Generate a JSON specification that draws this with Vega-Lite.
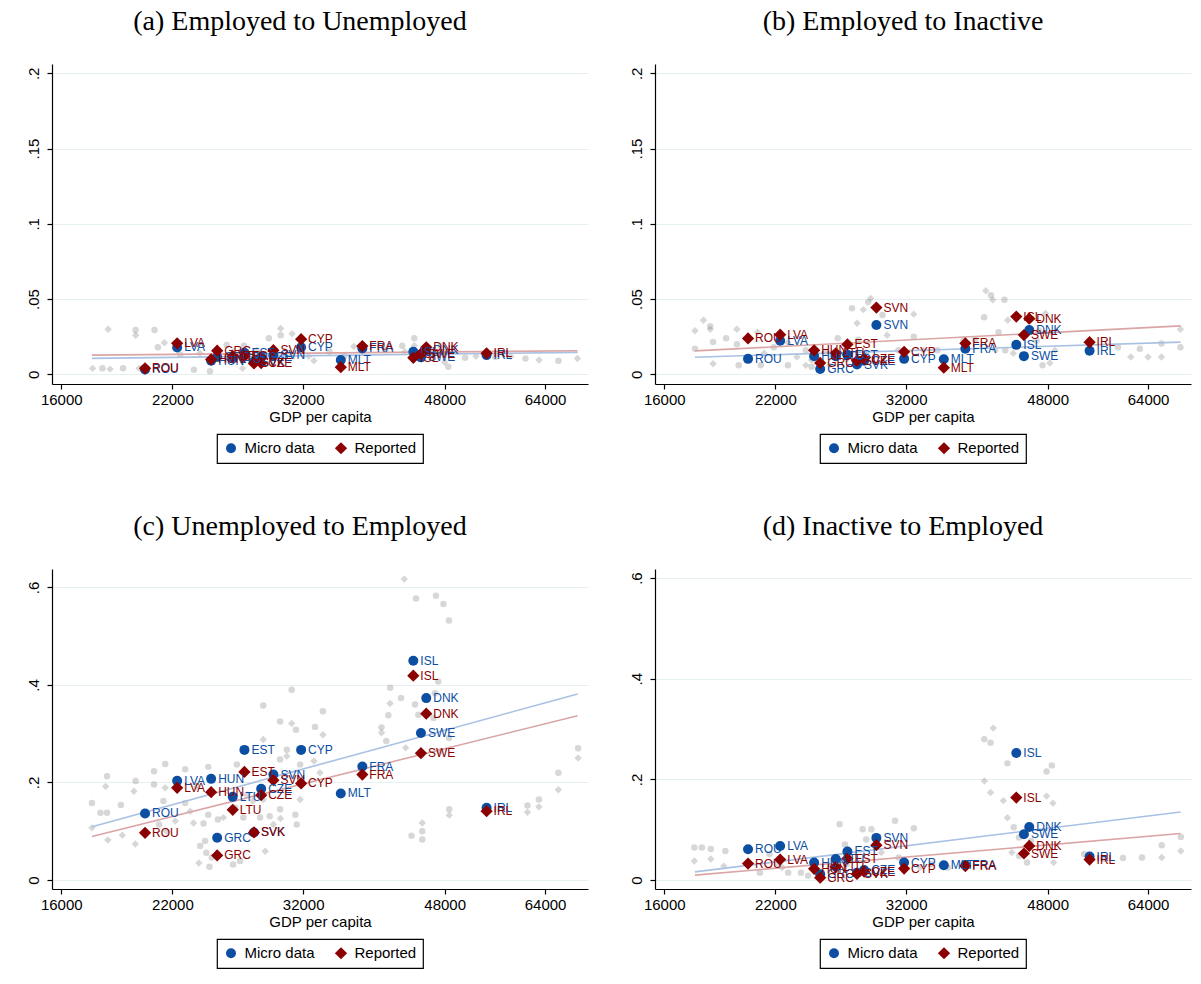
{
  "$schema": "https://vega.github.io/schema/vega-lite/v6.json",
  "background": "white",
  "padding": {"left": 26, "top": 8, "right": 5, "bottom": 5},
  "datasets": {
    "a": [
      {"series": "other micro", "gdp": 18000, "rate": 0.004},
      {"series": "other reported", "gdp": 17500, "rate": 0.004},
      {"series": "other reported", "gdp": 18400, "rate": 0.0035},
      {"series": "other micro", "gdp": 19100, "rate": 0.004},
      {"series": "other reported", "gdp": 18300, "rate": 0.030},
      {"series": "other micro", "gdp": 19800, "rate": 0.0295},
      {"series": "other reported", "gdp": 19800, "rate": 0.026},
      {"series": "other micro", "gdp": 20900, "rate": 0.0295},
      {"series": "other micro", "gdp": 21100, "rate": 0.018},
      {"series": "other reported", "gdp": 21500, "rate": 0.021},
      {"series": "other reported", "gdp": 20000, "rate": 0.004},
      {"series": "other micro", "gdp": 23400, "rate": 0.003},
      {"series": "other micro", "gdp": 24500, "rate": 0.002},
      {"series": "other reported", "gdp": 23800, "rate": 0.014},
      {"series": "other micro", "gdp": 25700, "rate": 0.0195},
      {"series": "other reported", "gdp": 26200, "rate": 0.015},
      {"series": "other micro", "gdp": 27000, "rate": 0.019},
      {"series": "other micro", "gdp": 27600, "rate": 0.0075},
      {"series": "other reported", "gdp": 26900, "rate": 0.004},
      {"series": "other reported", "gdp": 30000, "rate": 0.0305},
      {"series": "other micro", "gdp": 30000, "rate": 0.026},
      {"series": "other reported", "gdp": 31000, "rate": 0.027},
      {"series": "other micro", "gdp": 29000, "rate": 0.024},
      {"series": "other reported", "gdp": 28400, "rate": 0.011},
      {"series": "other micro", "gdp": 31000, "rate": 0.012},
      {"series": "other reported", "gdp": 32500, "rate": 0.012},
      {"series": "other micro", "gdp": 34500, "rate": 0.015},
      {"series": "other reported", "gdp": 37000, "rate": 0.0185},
      {"series": "other micro", "gdp": 40500, "rate": 0.016},
      {"series": "other reported", "gdp": 42800, "rate": 0.015},
      {"series": "other micro", "gdp": 44000, "rate": 0.024},
      {"series": "other reported", "gdp": 44000, "rate": 0.019},
      {"series": "other micro", "gdp": 42500, "rate": 0.019},
      {"series": "other reported", "gdp": 46500, "rate": 0.014},
      {"series": "other micro", "gdp": 47500, "rate": 0.019},
      {"series": "other micro", "gdp": 48500, "rate": 0.005},
      {"series": "other reported", "gdp": 48000, "rate": 0.008},
      {"series": "other micro", "gdp": 50900, "rate": 0.011},
      {"series": "other reported", "gdp": 52500, "rate": 0.012},
      {"series": "other micro", "gdp": 55500, "rate": 0.0115},
      {"series": "other reported", "gdp": 58000, "rate": 0.012},
      {"series": "other micro", "gdp": 60500, "rate": 0.0105},
      {"series": "other reported", "gdp": 62900, "rate": 0.0095},
      {"series": "other micro", "gdp": 66500, "rate": 0.009},
      {"series": "other reported", "gdp": 70200, "rate": 0.0105},
      {"series": "other micro", "gdp": 25000, "rate": 0.011},
      {"series": "other reported", "gdp": 28000, "rate": 0.016},
      {"series": "other micro", "gdp": 22500, "rate": 0.013},
      {"series": "other reported", "gdp": 33000, "rate": 0.009},
      {"series": "other micro", "gdp": 36000, "rate": 0.012},
      {"series": "fit micro", "gdp": 17470, "rate": 0.0106},
      {"series": "fit micro", "gdp": 70240, "rate": 0.0146},
      {"series": "fit reported", "gdp": 17470, "rate": 0.0128},
      {"series": "fit reported", "gdp": 70240, "rate": 0.0157},
      {"series": "Micro data", "country": "ROU", "gdp": 20340, "rate": 0.0033},
      {"series": "Micro data", "country": "LVA", "gdp": 22300, "rate": 0.0179},
      {"series": "Micro data", "country": "HUN", "gdp": 24580, "rate": 0.009},
      {"series": "Micro data", "country": "GRC", "gdp": 25010, "rate": 0.0115},
      {"series": "Micro data", "country": "LTU", "gdp": 26150, "rate": 0.0105},
      {"series": "Micro data", "country": "EST", "gdp": 27040, "rate": 0.0143},
      {"series": "Micro data", "country": "SVK", "gdp": 27790, "rate": 0.0085},
      {"series": "Micro data", "country": "CZE", "gdp": 28370, "rate": 0.0115},
      {"series": "Micro data", "country": "SVN", "gdp": 29380, "rate": 0.0128},
      {"series": "Micro data", "country": "CYP", "gdp": 31810, "rate": 0.018},
      {"series": "Micro data", "country": "MLT", "gdp": 35640, "rate": 0.0095},
      {"series": "Micro data", "country": "FRA", "gdp": 37910, "rate": 0.0172},
      {"series": "Micro data", "country": "ISL", "gdp": 43870, "rate": 0.015},
      {"series": "Micro data", "country": "SWE", "gdp": 44840, "rate": 0.0113},
      {"series": "Micro data", "country": "DNK", "gdp": 45530, "rate": 0.016},
      {"series": "Micro data", "country": "IRL", "gdp": 54120, "rate": 0.0128},
      {"series": "Reported", "country": "ROU", "gdp": 20340, "rate": 0.004},
      {"series": "Reported", "country": "LVA", "gdp": 22300, "rate": 0.0206},
      {"series": "Reported", "country": "HUN", "gdp": 24580, "rate": 0.0099},
      {"series": "Reported", "country": "GRC", "gdp": 25010, "rate": 0.0157},
      {"series": "Reported", "country": "LTU", "gdp": 26150, "rate": 0.0121},
      {"series": "Reported", "country": "EST", "gdp": 27040, "rate": 0.012},
      {"series": "Reported", "country": "SVK", "gdp": 27790, "rate": 0.0073},
      {"series": "Reported", "country": "CZE", "gdp": 28370, "rate": 0.0075},
      {"series": "Reported", "country": "SVN", "gdp": 29380, "rate": 0.0161},
      {"series": "Reported", "country": "CYP", "gdp": 31810, "rate": 0.0234},
      {"series": "Reported", "country": "MLT", "gdp": 35640, "rate": 0.0048},
      {"series": "Reported", "country": "FRA", "gdp": 37910, "rate": 0.0188},
      {"series": "Reported", "country": "ISL", "gdp": 43870, "rate": 0.011},
      {"series": "Reported", "country": "SWE", "gdp": 44840, "rate": 0.0137},
      {"series": "Reported", "country": "DNK", "gdp": 45530, "rate": 0.018},
      {"series": "Reported", "country": "IRL", "gdp": 54120, "rate": 0.014}
    ],
    "b": [
      {"series": "other reported", "gdp": 17470, "rate": 0.029},
      {"series": "other micro", "gdp": 17470, "rate": 0.017},
      {"series": "other reported", "gdp": 17900, "rate": 0.036},
      {"series": "other micro", "gdp": 18250, "rate": 0.032},
      {"series": "other reported", "gdp": 18250, "rate": 0.030},
      {"series": "other micro", "gdp": 18400, "rate": 0.0215},
      {"series": "other reported", "gdp": 18400, "rate": 0.007},
      {"series": "other micro", "gdp": 19100, "rate": 0.024},
      {"series": "other reported", "gdp": 19700, "rate": 0.030},
      {"series": "other micro", "gdp": 19700, "rate": 0.020},
      {"series": "other micro", "gdp": 19800, "rate": 0.006},
      {"series": "other reported", "gdp": 20900, "rate": 0.028},
      {"series": "other micro", "gdp": 21100, "rate": 0.006},
      {"series": "other reported", "gdp": 21300, "rate": 0.014},
      {"series": "other micro", "gdp": 21900, "rate": 0.018},
      {"series": "other reported", "gdp": 22800, "rate": 0.021},
      {"series": "other micro", "gdp": 22800, "rate": 0.006},
      {"series": "other reported", "gdp": 23400, "rate": 0.0115},
      {"series": "other micro", "gdp": 24000, "rate": 0.016},
      {"series": "other reported", "gdp": 24400, "rate": 0.0095},
      {"series": "other micro", "gdp": 24400, "rate": 0.005},
      {"series": "other reported", "gdp": 24000, "rate": 0.006},
      {"series": "other micro", "gdp": 25400, "rate": 0.015},
      {"series": "other reported", "gdp": 25700, "rate": 0.006},
      {"series": "other micro", "gdp": 26300, "rate": 0.024},
      {"series": "other reported", "gdp": 27000, "rate": 0.010},
      {"series": "other micro", "gdp": 27400, "rate": 0.044},
      {"series": "other reported", "gdp": 27800, "rate": 0.034},
      {"series": "other reported", "gdp": 28300, "rate": 0.043},
      {"series": "other reported", "gdp": 28900, "rate": 0.0505},
      {"series": "other micro", "gdp": 28700, "rate": 0.048},
      {"series": "other micro", "gdp": 27900, "rate": 0.023},
      {"series": "other reported", "gdp": 28500, "rate": 0.014},
      {"series": "other micro", "gdp": 29900, "rate": 0.0395},
      {"series": "other reported", "gdp": 30300, "rate": 0.026},
      {"series": "other micro", "gdp": 31300, "rate": 0.016},
      {"series": "other reported", "gdp": 32700, "rate": 0.040},
      {"series": "other micro", "gdp": 32700, "rate": 0.025},
      {"series": "other reported", "gdp": 33600, "rate": 0.016},
      {"series": "other micro", "gdp": 35000, "rate": 0.016},
      {"series": "other reported", "gdp": 37700, "rate": 0.023},
      {"series": "other micro", "gdp": 39000, "rate": 0.023},
      {"series": "other micro", "gdp": 40000, "rate": 0.038},
      {"series": "other reported", "gdp": 40200, "rate": 0.0555},
      {"series": "other micro", "gdp": 40800, "rate": 0.0525},
      {"series": "other reported", "gdp": 41000, "rate": 0.0495},
      {"series": "other micro", "gdp": 42400, "rate": 0.0495},
      {"series": "other reported", "gdp": 42800, "rate": 0.036},
      {"series": "other micro", "gdp": 41700, "rate": 0.028},
      {"series": "other reported", "gdp": 41300, "rate": 0.016},
      {"series": "other micro", "gdp": 42500, "rate": 0.016},
      {"series": "other reported", "gdp": 43500, "rate": 0.014},
      {"series": "other micro", "gdp": 46500, "rate": 0.0225},
      {"series": "other micro", "gdp": 47300, "rate": 0.006},
      {"series": "other reported", "gdp": 48300, "rate": 0.0075},
      {"series": "other reported", "gdp": 47700, "rate": 0.0405},
      {"series": "other micro", "gdp": 46800, "rate": 0.029},
      {"series": "other reported", "gdp": 49000, "rate": 0.016},
      {"series": "other micro", "gdp": 58700, "rate": 0.018},
      {"series": "other reported", "gdp": 60900, "rate": 0.0115},
      {"series": "other micro", "gdp": 62500, "rate": 0.017},
      {"series": "other reported", "gdp": 64000, "rate": 0.0115},
      {"series": "other micro", "gdp": 66500, "rate": 0.0205},
      {"series": "other reported", "gdp": 66500, "rate": 0.0115},
      {"series": "other reported", "gdp": 70200, "rate": 0.030},
      {"series": "other micro", "gdp": 70200, "rate": 0.018},
      {"series": "fit micro", "gdp": 17470, "rate": 0.0114},
      {"series": "fit micro", "gdp": 70240, "rate": 0.0214},
      {"series": "fit reported", "gdp": 17470, "rate": 0.0156},
      {"series": "fit reported", "gdp": 70240, "rate": 0.0322},
      {"series": "Micro data", "country": "ROU", "gdp": 20340, "rate": 0.0103},
      {"series": "Micro data", "country": "LVA", "gdp": 22300, "rate": 0.0223},
      {"series": "Micro data", "country": "HUN", "gdp": 24580, "rate": 0.0121},
      {"series": "Micro data", "country": "GRC", "gdp": 25010, "rate": 0.0036},
      {"series": "Micro data", "country": "LTU", "gdp": 26150, "rate": 0.012},
      {"series": "Micro data", "country": "EST", "gdp": 27040, "rate": 0.013},
      {"series": "Micro data", "country": "SVK", "gdp": 27790, "rate": 0.0065},
      {"series": "Micro data", "country": "CZE", "gdp": 28370, "rate": 0.009},
      {"series": "Micro data", "country": "SVN", "gdp": 29380, "rate": 0.0328},
      {"series": "Micro data", "country": "CYP", "gdp": 31810, "rate": 0.0103},
      {"series": "Micro data", "country": "MLT", "gdp": 35640, "rate": 0.0100},
      {"series": "Micro data", "country": "FRA", "gdp": 37910, "rate": 0.017},
      {"series": "Micro data", "country": "ISL", "gdp": 43870, "rate": 0.0196},
      {"series": "Micro data", "country": "SWE", "gdp": 44840, "rate": 0.0121},
      {"series": "Micro data", "country": "DNK", "gdp": 45530, "rate": 0.0294},
      {"series": "Micro data", "country": "IRL", "gdp": 54120, "rate": 0.0157},
      {"series": "Reported", "country": "ROU", "gdp": 20340, "rate": 0.0239},
      {"series": "Reported", "country": "LVA", "gdp": 22300, "rate": 0.0264},
      {"series": "Reported", "country": "HUN", "gdp": 24580, "rate": 0.016},
      {"series": "Reported", "country": "GRC", "gdp": 25010, "rate": 0.0076},
      {"series": "Reported", "country": "LTU", "gdp": 26150, "rate": 0.014},
      {"series": "Reported", "country": "EST", "gdp": 27040, "rate": 0.0199},
      {"series": "Reported", "country": "SVK", "gdp": 27790, "rate": 0.009},
      {"series": "Reported", "country": "CZE", "gdp": 28370, "rate": 0.0105},
      {"series": "Reported", "country": "SVN", "gdp": 29380, "rate": 0.0444},
      {"series": "Reported", "country": "CYP", "gdp": 31810, "rate": 0.015},
      {"series": "Reported", "country": "MLT", "gdp": 35640, "rate": 0.0044},
      {"series": "Reported", "country": "FRA", "gdp": 37910, "rate": 0.0206},
      {"series": "Reported", "country": "ISL", "gdp": 43870, "rate": 0.0384},
      {"series": "Reported", "country": "SWE", "gdp": 44840, "rate": 0.0261},
      {"series": "Reported", "country": "DNK", "gdp": 45530, "rate": 0.037},
      {"series": "Reported", "country": "IRL", "gdp": 54120, "rate": 0.0214}
    ],
    "c": [
      {"series": "other reported", "gdp": 42750, "rate": 0.617},
      {"series": "other micro", "gdp": 44210, "rate": 0.577},
      {"series": "other micro", "gdp": 46810, "rate": 0.583},
      {"series": "other micro", "gdp": 47830, "rate": 0.566},
      {"series": "other micro", "gdp": 48590, "rate": 0.532},
      {"series": "other micro", "gdp": 30960, "rate": 0.390},
      {"series": "other micro", "gdp": 28540, "rate": 0.358},
      {"series": "other micro", "gdp": 33860, "rate": 0.346},
      {"series": "other micro", "gdp": 41060, "rate": 0.394},
      {"series": "other micro", "gdp": 42360, "rate": 0.373},
      {"series": "other reported", "gdp": 41040, "rate": 0.362},
      {"series": "other micro", "gdp": 40840, "rate": 0.338},
      {"series": "other micro", "gdp": 44080, "rate": 0.360},
      {"series": "other micro", "gdp": 46680, "rate": 0.383},
      {"series": "other micro", "gdp": 47120, "rate": 0.407},
      {"series": "other micro", "gdp": 44510, "rate": 0.339},
      {"series": "other micro", "gdp": 46480, "rate": 0.332},
      {"series": "other micro", "gdp": 29950, "rate": 0.325},
      {"series": "other reported", "gdp": 30960, "rate": 0.321},
      {"series": "other micro", "gdp": 31340, "rate": 0.308},
      {"series": "other micro", "gdp": 33100, "rate": 0.314},
      {"series": "other reported", "gdp": 33860, "rate": 0.298},
      {"series": "other reported", "gdp": 28540, "rate": 0.288},
      {"series": "other micro", "gdp": 40050, "rate": 0.313},
      {"series": "other reported", "gdp": 40050, "rate": 0.302},
      {"series": "other micro", "gdp": 40600, "rate": 0.285},
      {"series": "other reported", "gdp": 42920, "rate": 0.271},
      {"series": "other micro", "gdp": 47350, "rate": 0.264},
      {"series": "other micro", "gdp": 48600, "rate": 0.291},
      {"series": "other micro", "gdp": 30540, "rate": 0.267},
      {"series": "other micro", "gdp": 29950, "rate": 0.247},
      {"series": "other reported", "gdp": 30530, "rate": 0.254},
      {"series": "other reported", "gdp": 33000, "rate": 0.244},
      {"series": "other micro", "gdp": 31720, "rate": 0.237},
      {"series": "other reported", "gdp": 33570, "rate": 0.220},
      {"series": "other micro", "gdp": 26460, "rate": 0.237},
      {"series": "other micro", "gdp": 24380, "rate": 0.232},
      {"series": "other micro", "gdp": 21550, "rate": 0.238},
      {"series": "other micro", "gdp": 22820, "rate": 0.227},
      {"series": "other micro", "gdp": 20870, "rate": 0.223},
      {"series": "other micro", "gdp": 18240, "rate": 0.213},
      {"series": "other micro", "gdp": 19800, "rate": 0.203},
      {"series": "other reported", "gdp": 18170, "rate": 0.192},
      {"series": "other micro", "gdp": 23600, "rate": 0.192},
      {"series": "other micro", "gdp": 18980, "rate": 0.154},
      {"series": "other micro", "gdp": 18240, "rate": 0.138},
      {"series": "other reported", "gdp": 19700, "rate": 0.182},
      {"series": "other micro", "gdp": 20870, "rate": 0.196},
      {"series": "other reported", "gdp": 21550, "rate": 0.189},
      {"series": "other micro", "gdp": 21440, "rate": 0.162},
      {"series": "other micro", "gdp": 22820, "rate": 0.158},
      {"series": "other reported", "gdp": 23150, "rate": 0.141},
      {"series": "other reported", "gdp": 22180, "rate": 0.121},
      {"series": "other reported", "gdp": 23370, "rate": 0.117},
      {"series": "other micro", "gdp": 24050, "rate": 0.116},
      {"series": "other micro", "gdp": 24380, "rate": 0.134},
      {"series": "other micro", "gdp": 25060, "rate": 0.124},
      {"series": "other reported", "gdp": 25460, "rate": 0.128},
      {"series": "other micro", "gdp": 26330, "rate": 0.148},
      {"series": "other micro", "gdp": 26960, "rate": 0.128},
      {"series": "other micro", "gdp": 27260, "rate": 0.175},
      {"series": "other reported", "gdp": 27700, "rate": 0.162},
      {"series": "other reported", "gdp": 28550, "rate": 0.165},
      {"series": "other micro", "gdp": 29950, "rate": 0.145},
      {"series": "other reported", "gdp": 29980, "rate": 0.126},
      {"series": "other reported", "gdp": 29380, "rate": 0.114},
      {"series": "other micro", "gdp": 29070, "rate": 0.131},
      {"series": "other micro", "gdp": 31290, "rate": 0.134},
      {"series": "other micro", "gdp": 31420, "rate": 0.114},
      {"series": "other reported", "gdp": 31720, "rate": 0.165},
      {"series": "other micro", "gdp": 28280, "rate": 0.128},
      {"series": "other reported", "gdp": 28700, "rate": 0.059},
      {"series": "other micro", "gdp": 24160, "rate": 0.080},
      {"series": "other micro", "gdp": 23820, "rate": 0.070},
      {"series": "other micro", "gdp": 24240, "rate": 0.056},
      {"series": "other micro", "gdp": 24630, "rate": 0.046},
      {"series": "other reported", "gdp": 23730, "rate": 0.035},
      {"series": "other micro", "gdp": 24460, "rate": 0.027},
      {"series": "other micro", "gdp": 26710, "rate": 0.039},
      {"series": "other micro", "gdp": 26180, "rate": 0.032},
      {"series": "other micro", "gdp": 21170, "rate": 0.114},
      {"series": "other reported", "gdp": 21640, "rate": 0.100},
      {"series": "other reported", "gdp": 19060, "rate": 0.092},
      {"series": "other reported", "gdp": 19780, "rate": 0.074},
      {"series": "other reported", "gdp": 18280, "rate": 0.082},
      {"series": "other micro", "gdp": 17470, "rate": 0.158},
      {"series": "other reported", "gdp": 17470, "rate": 0.107},
      {"series": "other micro", "gdp": 17900, "rate": 0.138},
      {"series": "other micro", "gdp": 48630, "rate": 0.145},
      {"series": "other reported", "gdp": 48630, "rate": 0.133},
      {"series": "other reported", "gdp": 45010, "rate": 0.117},
      {"series": "other micro", "gdp": 45010, "rate": 0.100},
      {"series": "other micro", "gdp": 43650, "rate": 0.091},
      {"series": "other micro", "gdp": 45010, "rate": 0.083},
      {"series": "other micro", "gdp": 60850, "rate": 0.153},
      {"series": "other reported", "gdp": 60850, "rate": 0.139},
      {"series": "other micro", "gdp": 62880, "rate": 0.165},
      {"series": "other reported", "gdp": 62880, "rate": 0.150},
      {"series": "other micro", "gdp": 66470, "rate": 0.220},
      {"series": "other reported", "gdp": 66470, "rate": 0.185},
      {"series": "other micro", "gdp": 70350, "rate": 0.270},
      {"series": "other reported", "gdp": 70350, "rate": 0.250},
      {"series": "fit micro", "gdp": 17470, "rate": 0.1094},
      {"series": "fit micro", "gdp": 70240, "rate": 0.3814},
      {"series": "fit reported", "gdp": 17470, "rate": 0.0893},
      {"series": "fit reported", "gdp": 70240, "rate": 0.337},
      {"series": "Micro data", "country": "ROU", "gdp": 20340, "rate": 0.1365},
      {"series": "Micro data", "country": "LVA", "gdp": 22300, "rate": 0.2033},
      {"series": "Micro data", "country": "HUN", "gdp": 24580, "rate": 0.2074},
      {"series": "Micro data", "country": "GRC", "gdp": 25010, "rate": 0.0866},
      {"series": "Micro data", "country": "LTU", "gdp": 26150, "rate": 0.1705},
      {"series": "Micro data", "country": "EST", "gdp": 27040, "rate": 0.2668},
      {"series": "Micro data", "country": "SVK", "gdp": 27790, "rate": 0.0976},
      {"series": "Micro data", "country": "CZE", "gdp": 28370, "rate": 0.1869},
      {"series": "Micro data", "country": "SVN", "gdp": 29380, "rate": 0.2163},
      {"series": "Micro data", "country": "CYP", "gdp": 31810, "rate": 0.2668},
      {"series": "Micro data", "country": "MLT", "gdp": 35640, "rate": 0.1775},
      {"series": "Micro data", "country": "FRA", "gdp": 37910, "rate": 0.2327},
      {"series": "Micro data", "country": "ISL", "gdp": 43870, "rate": 0.4497},
      {"series": "Micro data", "country": "SWE", "gdp": 44840, "rate": 0.3016},
      {"series": "Micro data", "country": "DNK", "gdp": 45530, "rate": 0.373},
      {"series": "Micro data", "country": "IRL", "gdp": 54120, "rate": 0.148},
      {"series": "Reported", "country": "ROU", "gdp": 20340, "rate": 0.0969},
      {"series": "Reported", "country": "LVA", "gdp": 22300, "rate": 0.189},
      {"series": "Reported", "country": "HUN", "gdp": 24580, "rate": 0.180},
      {"series": "Reported", "country": "GRC", "gdp": 25010, "rate": 0.0505},
      {"series": "Reported", "country": "LTU", "gdp": 26150, "rate": 0.144},
      {"series": "Reported", "country": "EST", "gdp": 27040, "rate": 0.2217},
      {"series": "Reported", "country": "SVK", "gdp": 27790, "rate": 0.0976},
      {"series": "Reported", "country": "CZE", "gdp": 28370, "rate": 0.174},
      {"series": "Reported", "country": "SVN", "gdp": 29380, "rate": 0.2047},
      {"series": "Reported", "country": "CYP", "gdp": 31810, "rate": 0.198},
      {"series": "Reported", "country": "FRA", "gdp": 37910, "rate": 0.2163},
      {"series": "Reported", "country": "ISL", "gdp": 43870, "rate": 0.419},
      {"series": "Reported", "country": "SWE", "gdp": 44840, "rate": 0.260},
      {"series": "Reported", "country": "DNK", "gdp": 45530, "rate": 0.341},
      {"series": "Reported", "country": "IRL", "gdp": 54120, "rate": 0.1412}
    ],
    "d": [
      {"series": "other reported", "gdp": 41060, "rate": 0.302},
      {"series": "other micro", "gdp": 40030, "rate": 0.280},
      {"series": "other micro", "gdp": 40750, "rate": 0.273},
      {"series": "other micro", "gdp": 42770, "rate": 0.232},
      {"series": "other micro", "gdp": 48570, "rate": 0.228},
      {"series": "other micro", "gdp": 47850, "rate": 0.216},
      {"series": "other reported", "gdp": 40030, "rate": 0.197},
      {"series": "other reported", "gdp": 40750, "rate": 0.174},
      {"series": "other reported", "gdp": 42270, "rate": 0.158},
      {"series": "other reported", "gdp": 47850, "rate": 0.167},
      {"series": "other reported", "gdp": 48720, "rate": 0.153},
      {"series": "other reported", "gdp": 42770, "rate": 0.124},
      {"series": "other micro", "gdp": 43550, "rate": 0.105},
      {"series": "other micro", "gdp": 44210, "rate": 0.085},
      {"series": "other micro", "gdp": 45760, "rate": 0.078},
      {"series": "other reported", "gdp": 43310, "rate": 0.055},
      {"series": "other micro", "gdp": 44210, "rate": 0.048},
      {"series": "other micro", "gdp": 45240, "rate": 0.035},
      {"series": "other reported", "gdp": 48820, "rate": 0.035},
      {"series": "other micro", "gdp": 17440, "rate": 0.065},
      {"series": "other micro", "gdp": 17820, "rate": 0.065},
      {"series": "other micro", "gdp": 18280, "rate": 0.062},
      {"series": "other reported", "gdp": 17440, "rate": 0.038},
      {"series": "other reported", "gdp": 18280, "rate": 0.042},
      {"series": "other micro", "gdp": 19060, "rate": 0.058},
      {"series": "other reported", "gdp": 18970, "rate": 0.028},
      {"series": "other micro", "gdp": 21040, "rate": 0.015},
      {"series": "other micro", "gdp": 21630, "rate": 0.052},
      {"series": "other reported", "gdp": 22430, "rate": 0.025},
      {"series": "other micro", "gdp": 22820, "rate": 0.015},
      {"series": "other micro", "gdp": 23670, "rate": 0.015},
      {"series": "other micro", "gdp": 24160, "rate": 0.009},
      {"series": "other reported", "gdp": 24940, "rate": 0.005},
      {"series": "other micro", "gdp": 26440, "rate": 0.111},
      {"series": "other micro", "gdp": 28250, "rate": 0.101},
      {"series": "other micro", "gdp": 28960, "rate": 0.101},
      {"series": "other micro", "gdp": 30990, "rate": 0.118},
      {"series": "other micro", "gdp": 32710, "rate": 0.103},
      {"series": "other micro", "gdp": 28540, "rate": 0.081},
      {"series": "other micro", "gdp": 26850, "rate": 0.071},
      {"series": "other reported", "gdp": 29810, "rate": 0.055},
      {"series": "other micro", "gdp": 31320, "rate": 0.045},
      {"series": "other reported", "gdp": 33310, "rate": 0.025},
      {"series": "other micro", "gdp": 34480, "rate": 0.032},
      {"series": "other micro", "gdp": 36030, "rate": 0.025},
      {"series": "other reported", "gdp": 38170, "rate": 0.032},
      {"series": "other micro", "gdp": 56340, "rate": 0.042},
      {"series": "other micro", "gdp": 59560, "rate": 0.044},
      {"series": "other micro", "gdp": 62890, "rate": 0.045},
      {"series": "other micro", "gdp": 66550, "rate": 0.0695},
      {"series": "other reported", "gdp": 66550, "rate": 0.045},
      {"series": "other micro", "gdp": 70280, "rate": 0.086},
      {"series": "other reported", "gdp": 70280, "rate": 0.058},
      {"series": "other micro", "gdp": 53270, "rate": 0.052},
      {"series": "other reported", "gdp": 25700, "rate": 0.025},
      {"series": "other micro", "gdp": 27000, "rate": 0.032},
      {"series": "other micro", "gdp": 22160, "rate": 0.032},
      {"series": "fit micro", "gdp": 17470, "rate": 0.0165},
      {"series": "fit micro", "gdp": 70240, "rate": 0.1355},
      {"series": "fit reported", "gdp": 17470, "rate": 0.010},
      {"series": "fit reported", "gdp": 70240, "rate": 0.0927},
      {"series": "Micro data", "country": "ROU", "gdp": 20340, "rate": 0.0615},
      {"series": "Micro data", "country": "LVA", "gdp": 22300, "rate": 0.068},
      {"series": "Micro data", "country": "HUN", "gdp": 24580, "rate": 0.035},
      {"series": "Micro data", "country": "GRC", "gdp": 25010, "rate": 0.012},
      {"series": "Micro data", "country": "LTU", "gdp": 26150, "rate": 0.042},
      {"series": "Micro data", "country": "EST", "gdp": 27040, "rate": 0.057},
      {"series": "Micro data", "country": "SVK", "gdp": 27790, "rate": 0.015},
      {"series": "Micro data", "country": "CZE", "gdp": 28370, "rate": 0.020},
      {"series": "Micro data", "country": "SVN", "gdp": 29380, "rate": 0.084},
      {"series": "Micro data", "country": "CYP", "gdp": 31810, "rate": 0.035},
      {"series": "Micro data", "country": "MLT", "gdp": 35640, "rate": 0.0298},
      {"series": "Micro data", "country": "FRA", "gdp": 37910, "rate": 0.030},
      {"series": "Micro data", "country": "ISL", "gdp": 43870, "rate": 0.2527},
      {"series": "Micro data", "country": "SWE", "gdp": 44840, "rate": 0.0913},
      {"series": "Micro data", "country": "DNK", "gdp": 45530, "rate": 0.1058},
      {"series": "Micro data", "country": "IRL", "gdp": 54120, "rate": 0.047},
      {"series": "Reported", "country": "ROU", "gdp": 20340, "rate": 0.033},
      {"series": "Reported", "country": "LVA", "gdp": 22300, "rate": 0.041},
      {"series": "Reported", "country": "HUN", "gdp": 24580, "rate": 0.0225},
      {"series": "Reported", "country": "GRC", "gdp": 25010, "rate": 0.005},
      {"series": "Reported", "country": "LTU", "gdp": 26150, "rate": 0.026},
      {"series": "Reported", "country": "EST", "gdp": 27040, "rate": 0.043},
      {"series": "Reported", "country": "SVK", "gdp": 27790, "rate": 0.0125},
      {"series": "Reported", "country": "CZE", "gdp": 28370, "rate": 0.017},
      {"series": "Reported", "country": "SVN", "gdp": 29380, "rate": 0.0695},
      {"series": "Reported", "country": "CYP", "gdp": 31810, "rate": 0.023},
      {"series": "Reported", "country": "FRA", "gdp": 37910, "rate": 0.028},
      {"series": "Reported", "country": "ISL", "gdp": 43870, "rate": 0.164},
      {"series": "Reported", "country": "SWE", "gdp": 44840, "rate": 0.053},
      {"series": "Reported", "country": "DNK", "gdp": 45530, "rate": 0.068},
      {"series": "Reported", "country": "IRL", "gdp": 54120, "rate": 0.041}
    ]
  },
  "vconcat": [
    {
      "hconcat": [
        {
          "width": 536, "height": 320,
          "title": "(a) Employed to Unemployed",
          "data": {"name": "a"},
          "encoding": {
            "x": {"field": "gdp", "type": "quantitative", "scale": {"type": "log", "domain": [15580, 72370], "nice": false}, "axis": {"title": "GDP per capita", "values": [16000, 22000, 32000, 48000, 64000], "format": "d"}},
            "y": {"field": "rate", "type": "quantitative", "scale": {"domain": [-0.0064, 0.2062], "nice": false, "zero": false}, "axis": {"title": null, "values": [0, 0.05, 0.1, 0.15, 0.2], "labelExpr": "replace(format(datum.value, '~g'), '0.', '.')"}}
          },
          "layer": [
            {"transform": [{"filter": "datum.series == 'other micro'"}], "mark": {"type": "point", "shape": "circle", "filled": true, "color": "#6e6e6e", "opacity": 0.28, "size": 42}},
            {"transform": [{"filter": "datum.series == 'other reported'"}], "mark": {"type": "point", "shape": "diamond", "filled": true, "color": "#6e6e6e", "opacity": 0.28, "size": 55}},
            {"transform": [{"filter": "datum.series == 'fit micro'"}], "mark": {"type": "line", "color": "#a9c1e3", "strokeWidth": 1.6}, "encoding": {}},
            {"transform": [{"filter": "datum.series == 'fit reported'"}], "mark": {"type": "line", "color": "#dba5a5", "strokeWidth": 1.6}, "encoding": {}},
            {"transform": [{"filter": "datum.country != null"}], "mark": {"type": "point", "filled": true, "opacity": 1},
             "encoding": {
               "color": {"field": "series", "type": "nominal", "scale": {"domain": ["Micro data", "Reported"], "range": ["#0b4ea2", "#8b0000"]}, "legend": {"title": null}},
               "shape": {"field": "series", "type": "nominal", "scale": {"domain": ["Micro data", "Reported"], "range": ["circle", "diamond"]}, "legend": {"title": null}},
               "size": {"field": "series", "type": "ordinal", "scale": {"domain": ["Micro data", "Reported"], "range": [100, 150]}, "legend": null}
             }},
            {"transform": [{"filter": "datum.country != null"}], "mark": {"type": "text", "align": "left", "baseline": "middle", "dx": 7, "fontSize": 12},
             "encoding": {
               "text": {"field": "country", "type": "nominal"},
               "color": {"field": "series", "type": "nominal", "scale": {"domain": ["Micro data", "Reported"], "range": ["#0b4ea2", "#8b0000"]}, "legend": {"title": null}}
             }}
          ]
        },
        {
          "width": 536, "height": 320,
          "title": "(b) Employed to Inactive",
          "data": {"name": "b"},
          "encoding": {
            "x": {"field": "gdp", "type": "quantitative", "scale": {"type": "log", "domain": [15580, 72370], "nice": false}, "axis": {"title": "GDP per capita", "values": [16000, 22000, 32000, 48000, 64000], "format": "d"}},
            "y": {"field": "rate", "type": "quantitative", "scale": {"domain": [-0.0064, 0.2062], "nice": false, "zero": false}, "axis": {"title": null, "values": [0, 0.05, 0.1, 0.15, 0.2], "labelExpr": "replace(format(datum.value, '~g'), '0.', '.')"}}
          },
          "layer": [
            {"transform": [{"filter": "datum.series == 'other micro'"}], "mark": {"type": "point", "shape": "circle", "filled": true, "color": "#6e6e6e", "opacity": 0.28, "size": 42}},
            {"transform": [{"filter": "datum.series == 'other reported'"}], "mark": {"type": "point", "shape": "diamond", "filled": true, "color": "#6e6e6e", "opacity": 0.28, "size": 55}},
            {"transform": [{"filter": "datum.series == 'fit micro'"}], "mark": {"type": "line", "color": "#a9c1e3", "strokeWidth": 1.6}, "encoding": {}},
            {"transform": [{"filter": "datum.series == 'fit reported'"}], "mark": {"type": "line", "color": "#dba5a5", "strokeWidth": 1.6}, "encoding": {}},
            {"transform": [{"filter": "datum.country != null"}], "mark": {"type": "point", "filled": true, "opacity": 1},
             "encoding": {
               "color": {"field": "series", "type": "nominal", "scale": {"domain": ["Micro data", "Reported"], "range": ["#0b4ea2", "#8b0000"]}, "legend": {"title": null}},
               "shape": {"field": "series", "type": "nominal", "scale": {"domain": ["Micro data", "Reported"], "range": ["circle", "diamond"]}, "legend": {"title": null}},
               "size": {"field": "series", "type": "ordinal", "scale": {"domain": ["Micro data", "Reported"], "range": [100, 150]}, "legend": null}
             }},
            {"transform": [{"filter": "datum.country != null"}], "mark": {"type": "text", "align": "left", "baseline": "middle", "dx": 7, "fontSize": 12},
             "encoding": {
               "text": {"field": "country", "type": "nominal"},
               "color": {"field": "series", "type": "nominal", "scale": {"domain": ["Micro data", "Reported"], "range": ["#0b4ea2", "#8b0000"]}, "legend": {"title": null}}
             }}
          ]
        }
      ],
      "spacing": 41,
      "resolve": {"scale": {"x": "independent", "y": "independent", "color": "independent", "shape": "independent", "size": "independent"}, "legend": {"color": "independent", "shape": "independent"}}
    },
    {
      "hconcat": [
        {
          "width": 536, "height": 320,
          "title": "(c) Unemployed to Employed",
          "data": {"name": "c"},
          "encoding": {
            "x": {"field": "gdp", "type": "quantitative", "scale": {"type": "log", "domain": [15580, 72370], "nice": false}, "axis": {"title": "GDP per capita", "values": [16000, 22000, 32000, 48000, 64000], "format": "d"}},
            "y": {"field": "rate", "type": "quantitative", "scale": {"domain": [-0.0184, 0.6377], "nice": false, "zero": false}, "axis": {"title": null, "values": [0, 0.2, 0.4, 0.6], "labelExpr": "replace(format(datum.value, '~g'), '0.', '.')"}}
          },
          "layer": [
            {"transform": [{"filter": "datum.series == 'other micro'"}], "mark": {"type": "point", "shape": "circle", "filled": true, "color": "#6e6e6e", "opacity": 0.28, "size": 42}},
            {"transform": [{"filter": "datum.series == 'other reported'"}], "mark": {"type": "point", "shape": "diamond", "filled": true, "color": "#6e6e6e", "opacity": 0.28, "size": 55}},
            {"transform": [{"filter": "datum.series == 'fit micro'"}], "mark": {"type": "line", "color": "#a9c1e3", "strokeWidth": 1.6}, "encoding": {}},
            {"transform": [{"filter": "datum.series == 'fit reported'"}], "mark": {"type": "line", "color": "#dba5a5", "strokeWidth": 1.6}, "encoding": {}},
            {"transform": [{"filter": "datum.country != null"}], "mark": {"type": "point", "filled": true, "opacity": 1},
             "encoding": {
               "color": {"field": "series", "type": "nominal", "scale": {"domain": ["Micro data", "Reported"], "range": ["#0b4ea2", "#8b0000"]}, "legend": {"title": null}},
               "shape": {"field": "series", "type": "nominal", "scale": {"domain": ["Micro data", "Reported"], "range": ["circle", "diamond"]}, "legend": {"title": null}},
               "size": {"field": "series", "type": "ordinal", "scale": {"domain": ["Micro data", "Reported"], "range": [100, 150]}, "legend": null}
             }},
            {"transform": [{"filter": "datum.country != null"}], "mark": {"type": "text", "align": "left", "baseline": "middle", "dx": 7, "fontSize": 12},
             "encoding": {
               "text": {"field": "country", "type": "nominal"},
               "color": {"field": "series", "type": "nominal", "scale": {"domain": ["Micro data", "Reported"], "range": ["#0b4ea2", "#8b0000"]}, "legend": {"title": null}}
             }}
          ]
        },
        {
          "width": 536, "height": 320,
          "title": "(d) Inactive to Employed",
          "data": {"name": "d"},
          "encoding": {
            "x": {"field": "gdp", "type": "quantitative", "scale": {"type": "log", "domain": [15580, 72370], "nice": false}, "axis": {"title": "GDP per capita", "values": [16000, 22000, 32000, 48000, 64000], "format": "d"}},
            "y": {"field": "rate", "type": "quantitative", "scale": {"domain": [-0.0175, 0.618], "nice": false, "zero": false}, "axis": {"title": null, "values": [0, 0.2, 0.4, 0.6], "labelExpr": "replace(format(datum.value, '~g'), '0.', '.')"}}
          },
          "layer": [
            {"transform": [{"filter": "datum.series == 'other micro'"}], "mark": {"type": "point", "shape": "circle", "filled": true, "color": "#6e6e6e", "opacity": 0.28, "size": 42}},
            {"transform": [{"filter": "datum.series == 'other reported'"}], "mark": {"type": "point", "shape": "diamond", "filled": true, "color": "#6e6e6e", "opacity": 0.28, "size": 55}},
            {"transform": [{"filter": "datum.series == 'fit micro'"}], "mark": {"type": "line", "color": "#a9c1e3", "strokeWidth": 1.6}, "encoding": {}},
            {"transform": [{"filter": "datum.series == 'fit reported'"}], "mark": {"type": "line", "color": "#dba5a5", "strokeWidth": 1.6}, "encoding": {}},
            {"transform": [{"filter": "datum.country != null"}], "mark": {"type": "point", "filled": true, "opacity": 1},
             "encoding": {
               "color": {"field": "series", "type": "nominal", "scale": {"domain": ["Micro data", "Reported"], "range": ["#0b4ea2", "#8b0000"]}, "legend": {"title": null}},
               "shape": {"field": "series", "type": "nominal", "scale": {"domain": ["Micro data", "Reported"], "range": ["circle", "diamond"]}, "legend": {"title": null}},
               "size": {"field": "series", "type": "ordinal", "scale": {"domain": ["Micro data", "Reported"], "range": [100, 150]}, "legend": null}
             }},
            {"transform": [{"filter": "datum.country != null"}], "mark": {"type": "text", "align": "left", "baseline": "middle", "dx": 7, "fontSize": 12},
             "encoding": {
               "text": {"field": "country", "type": "nominal"},
               "color": {"field": "series", "type": "nominal", "scale": {"domain": ["Micro data", "Reported"], "range": ["#0b4ea2", "#8b0000"]}, "legend": {"title": null}}
             }}
          ]
        }
      ],
      "spacing": 41,
      "resolve": {"scale": {"x": "independent", "y": "independent", "color": "independent", "shape": "independent", "size": "independent"}, "legend": {"color": "independent", "shape": "independent"}}
    }
  ],
  "spacing": 49,
  "resolve": {"scale": {"x": "independent", "y": "independent", "color": "independent", "shape": "independent", "size": "independent"}, "legend": {"color": "independent", "shape": "independent"}},
  "config": {
    "font": "Liberation Sans",
    "view": {"stroke": null},
    "axis": {
      "labelFont": "Liberation Sans", "labelFontSize": 15, "labelColor": "black",
      "titleFont": "Liberation Sans", "titleFontSize": 15, "titleFontWeight": "normal", "titleColor": "black",
      "domainColor": "black", "domainWidth": 1.2, "tickColor": "black", "tickSize": 5, "tickWidth": 1.2,
      "labelPadding": 3, "titlePadding": 2
    },
    "axisX": {"grid": false},
    "axisY": {"grid": true, "gridColor": "#e6eff1", "gridWidth": 1.2, "labelAngle": -90, "labelPadding": 6},
    "title": {"font": "Liberation Serif", "fontSize": 28, "fontWeight": "normal", "color": "black", "anchor": "middle", "frame": "group", "dx": -20, "offset": 28},
    "legend": {
      "orient": "bottom", "direction": "horizontal", "strokeColor": "black", "strokeWidth": 1.2, "padding": 6.5,
      "labelFont": "Liberation Sans", "labelFontSize": 15, "labelColor": "black", "symbolSize": 130, "symbolStrokeWidth": 0,
      "columnPadding": 18, "offset": 10, "labelOffset": 6,
      "layout": {"bottom": {"anchor": "middle"}}
    }
  }
}
